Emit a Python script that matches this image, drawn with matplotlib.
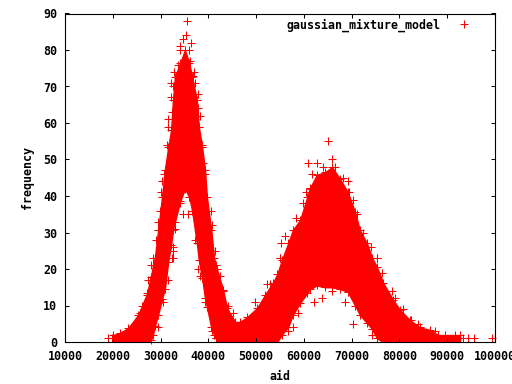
"""
Frequency of each aid, gaussian mixture model. Solid band read off as an
upper and lower edge, the loose crosses around it are listed one by one.
"""
import matplotlib
matplotlib.use("Agg")
import matplotlib.pyplot as plt

# Edges of the solid band.
band_aid = [20050, 21500, 23200, 25300, 26100, 27200, 27800, 28000, 28400, 28800,
            29500, 30300, 30900, 31600, 32200, 32600, 33000, 34100, 35100, 36000,
            36600, 37600, 38000, 38700, 39300, 39700, 40600, 41200, 41600, 41800,
            43100, 43900, 45600, 46600, 48100, 50200, 51900, 53500, 54400, 55400,
            56700, 57700, 59200, 60700, 61300, 62700, 64400, 65900, 67600, 69200,
            70700, 71700, 73200, 74300, 75300, 76600, 78700, 80100, 82200, 84300,
            86400, 88100, 92700]
band_upper = [1.9, 2.5, 3.8, 7.4, 9.9, 13.4, 17, 17.8, 21, 23,
              30.7, 39.7, 47.1, 53.4, 58, 66.3, 72.6, 76.4, 80, 76.4,
              72.6, 66.3, 59, 53.4, 47.1, 39.7, 30.7, 23, 21, 20,
              14.2, 9.3, 5.5, 5.5, 6.8, 9.3, 13, 16.2, 18.5, 22.5,
              27, 30.7, 33.4, 39.7, 42.2, 45.8, 46.5, 47.9, 44.6, 41,
              35.6, 30.7, 27, 23, 20.5, 16.2, 11.5, 8.8, 6, 4,
              3.3, 1.9, 1.9]
band_lower = [0, 0, 0, 0, 0, 0, 0, 0.5, 2, 4.4,
              7.5, 11.8, 14.5, 22, 26.6, 30.7, 32.9, 38.5, 42, 39.7,
              36, 27, 22.5, 17.5, 12, 9.6, 4, 2, 1, 0,
              0, 0, 0, 0, 0, 0, 0, 0, 0, 2,
              4.1, 7.5, 10.7, 13.4, 14.5, 15.5, 15, 15, 14.5, 13.7,
              10, 7.5, 5.2, 3.5, 1, 0, 0, 0, 0, 0,
              0, 0, 0]

# Loose crosses outside the solid band.
point_aid = [35600, 35300, 34700, 36300, 34100, 36000, 34100, 36200, 33700, 32800,
             37000, 36800, 32100, 32600, 37200, 37800, 32100, 37800, 32300, 38300,
             31600, 31600, 38000, 31300, 38600, 38900, 30700, 39300, 30400, 30000,
             29900, 40500, 29500, 40700, 29000, 41400, 28500, 34800, 35800, 37200,
             33000, 32600, 32300, 34100,
             19100, 19800, 21900, 23200, 24700, 28100, 27400, 27100, 25700, 29500,
             31600, 32700, 32700, 30600, 40700, 42400, 43100, 44200, 38300, 37900,
             41700, 39300,
             45100, 49800, 52200, 52900, 55000, 56700, 57800, 58800, 62200, 63700,
             68600, 70300, 74200, 75200, 76300, 65800, 54000,
             65100, 65800, 60800, 62700, 64100, 66500, 61600, 68200, 69300, 61500,
             60400, 69500, 59900, 70200, 58300, 71100, 56000, 72400, 55200, 74000,
             75200, 55000, 67600,
             78400, 79100, 80700, 82400, 83900, 87400, 89500, 91600, 93400, 94400,
             95600, 99400, 76300, 77300]
point_freq = [88, 84, 83, 82, 81, 80, 80, 77, 76, 74,
              74, 73, 71, 70, 71, 68, 67, 64, 63, 62,
              61, 59, 59, 54, 54, 49, 46, 46, 44, 41,
              36, 36, 33, 32, 28, 25, 23, 35, 35, 28,
              31, 26, 23, 38,
              1, 1, 2, 3, 4, 21, 17, 13, 8, 4,
              17, 23, 25, 11, 3, 18, 14, 10, 18, 20,
              1, 11,
              8, 11, 16, 16, 23, 3, 4, 8, 11, 12,
              11, 5, 2, 23, 19, 14, 1,
              55, 50, 49, 49, 48, 48, 46, 45, 44, 42,
              41, 41, 38, 39, 34, 35, 29, 30, 27, 26,
              23, 23, 43,
              14, 12, 9, 6, 5, 3, 2, 2, 1, 1,
              1, 1, 1, 1]

x_ticks = [10000, 20000, 30000, 40000, 50000, 60000, 70000, 80000, 90000, 100000]
y_ticks = [0, 10, 20, 30, 40, 50, 60, 70, 80, 90]

plt.rcParams["font.family"] = "DejaVu Sans Mono"
plt.rcParams["font.weight"] = "bold"
plt.rcParams["axes.labelweight"] = "bold"
plt.rcParams["font.size"] = 8.4

fig = plt.figure(figsize=(5.12, 3.84), dpi=100)
ax = fig.add_axes([65 / 512, 1 - 342 / 384, 430 / 512, 328.5 / 384])

cross = dict(linestyle="none", marker="+", markersize=5.4, markeredgewidth=0.75,
             color="#ff0000", antialiased=False, clip_on=False)

ax.fill_between(band_aid, band_lower, band_upper, color="#ff0000", linewidth=1, antialiased=False)
# the band edges are crosses too, that gives the rough outline
ax.plot(band_aid, band_upper, **cross)
ax.plot([a for a, f in zip(band_aid, band_lower) if f > 0],
        [f for f in band_lower if f > 0], **cross)
ax.plot(point_aid, point_freq, label="gaussian_mixture_model", **cross)

ax.set_xlim(10000, 100000)
ax.set_ylim(0, 90)
ax.set_xticks(x_ticks)
ax.set_yticks(y_ticks)
ax.tick_params(direction="in", length=3.2, width=0.75, top=True, right=True, pad=5.5)
for spine in ax.spines.values():
    spine.set_linewidth(0.8)

ax.set_xlabel("aid", labelpad=5)
ax.set_ylabel("frequency", labelpad=7)

ax.legend(loc="upper right", frameon=False, markerfirst=False, handletextpad=1.05,
          handlelength=2, borderaxespad=0, borderpad=0, bbox_to_anchor=(0.955, 0.985))

fig.savefig("out.png", dpi=100)
